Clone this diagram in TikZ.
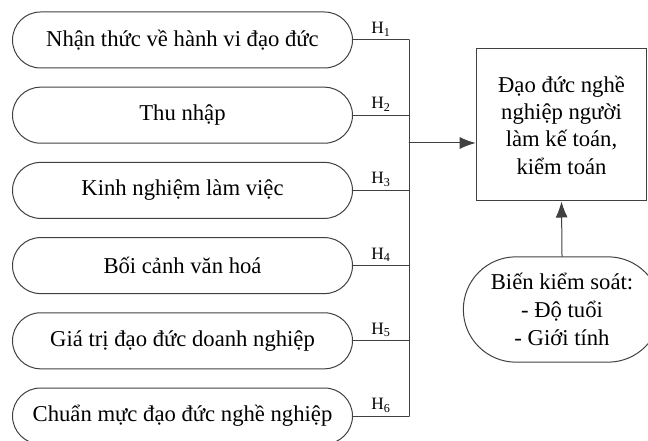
\documentclass[tikz,border=0pt]{standalone}
\usepackage{fontspec}
\setmainfont{Liberation Serif}
\usetikzlibrary{shapes.misc,arrows.meta}
\begin{document}
\begin{tikzpicture}[x=0.75pt,y=-0.75pt,line cap=round]
% Styles
\tikzset{
  factor/.style={draw=black!75,line width=0.75pt,rounded rectangle,minimum width=255pt,minimum height=42pt,inner sep=0pt,font=\fontsize{17}{20}\selectfont},
  target/.style={draw=black!75,line width=0.75pt,rectangle,minimum width=128pt,minimum height=114pt,align=center,inner sep=0pt,font=\fontsize{17}{20.5}\selectfont},
  control/.style={draw=black!75,line width=0.75pt,rounded rectangle,minimum width=148pt,minimum height=79pt,align=center,inner sep=0pt,font=\fontsize{17}{21}\selectfont},
  link/.style={draw=black!75,line width=0.75pt},
  arrow/.style={link,-{Latex[length=12pt,width=9pt]}},
  hlab/.style={font=\fontsize{13}{14}\selectfont,inner sep=2.5pt}
}
\useasboundingbox (0,0) rectangle (648,441);

% draw the nodes
\foreach \i/\txt in {1/Nhận thức về hành vi đạo đức,2/Thu nhập,3/Kinh nghiệm làm việc,4/Bối cảnh văn hoá,5/Giá trị đạo đức doanh nghiệp,6/Chuẩn mực đạo đức nghề nghiệp} {
\node[factor] (f\i) at (182.5,{40+75.2*(\i-1)}) {\txt};
}
\node[target] (dv) at (561.5,125) {Đạo đức nghề\\nghiệp người\\làm kế toán,\\kiểm toán};
\node[control] (ctl) at (562,309.5) {Biến kiểm soát:\\- Độ tuổi\\- Giới tính};

% draw the paths
\coordinate (bus) at (409,40);
\coordinate (join) at (409,143);
\foreach \i in {1,...,6} {
\draw[link] (f\i.east) -- node[midway,above,hlab]{H\textsubscript{\i}} (f\i.east -| bus);
}
\draw[link] (f1.east -| bus) -- (f6.east -| bus);
\draw[arrow] (join) -- (join -| dv.west);
\draw[arrow] (ctl.north) -- (dv.south);

\end{tikzpicture}
\end{document}
